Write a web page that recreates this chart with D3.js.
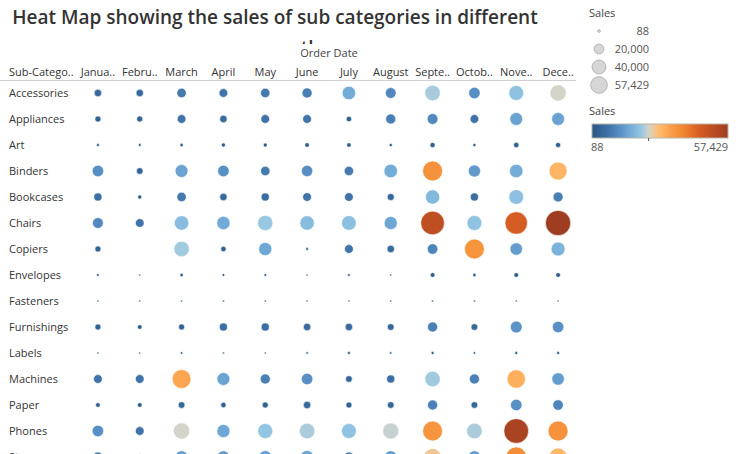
<!DOCTYPE html>
<html>
<head>
<meta charset="utf-8">
<script src="https://cdn.jsdelivr.net/npm/d3@7"></script>
<style>
  html, body { margin: 0; padding: 0; background: #fff; }
  svg { display: block; font-family: "Open Sans", "Noto Sans", sans-serif; }
</style>
</head>
<body>
<svg id="chart" width="736" height="454"></svg>
<script>
// ---------------- DATA ----------------
const months = ["Janua..", "Febru..", "March", "April", "May", "June", "July", "August", "Septe..", "Octob..", "Nove..", "Dece.."];
const subCategories = ["Accessories", "Appliances", "Art", "Binders", "Bookcases", "Chairs", "Copiers", "Envelopes", "Fasteners", "Furnishings", "Labels", "Machines", "Paper", "Phones", "Storage"];

const accessories = [4975, 4975, 8060, 6950, 8060, 9250, 16450, 10500, 21750, 11900, 19900, 24000];
const appliances  = [3330, 3330, 6950, 4975, 6950, 6950, 2630, 9250, 10500, 6950, 14850, 14850];
const art         = [800, 700, 1000, 1500, 1400, 1900, 1800, 900, 2400, 900, 2500, 2400];
const binders     = [12000, 4100, 15000, 12000, 8000, 11500, 8000, 16500, 36000, 13500, 16500, 29500];
const bookcases   = [5900, 1500, 8000, 5000, 5900, 6900, 6900, 4500, 18500, 5900, 19500, 9000];
const chairs      = [10500, 6900, 19000, 16000, 21000, 19000, 19500, 15500, 50500, 20000, 45500, 57429];
const copiers     = [3300, null, 21500, 2600, 15500, 700, 7000, 5000, 10000, 35500, 14000, 17500];
const envelopes   = [660, 370, 1030, 660, 660, 370, 660, 370, 2015, 1030, 2015, 2015];
const fasteners   = [300, 280, 88, 230, 220, 300, 280, 210, 330, 300, 320, 300];
const furnishings = [3300, 2000, 3300, 5900, 5900, 5000, 5000, 4100, 9250, 4100, 12500, 12000];
const labels      = [260, 260, 500, 260, 370, 500, 800, 500, 800, 500, 800, 800];
const machines    = [6950, 6950, 32000, 15000, 9250, 12000, 4110, 5920, 21500, 9250, 30500, 14000];
const paper       = [2000, 2000, 4100, 2600, 3300, 5000, 3300, 4100, 9250, 4100, 12000, 10000];
const phones      = [12000, 6950, 24000, 15500, 20500, 22000, 20000, 23300, 35500, 22000, 55000, 36000];
const storage     = [9000, 4000, 14000, 14000, 15000, 15500, 9500, 14000, 26500, 14000, 37000, 29000];

const sizeLegendValues = [88, 20000, 40000, 57429];
const sizeLegendLabels = ["88", "20,000", "40,000", "57,429"];
const colorLegendLabels = ["88", "57,429"];
const salesMin = 88, salesMax = 57429, salesCenter = 23950;

// ---------------- BUILD ----------------
const seriesByRow = [accessories, appliances, art, binders, bookcases, chairs, copiers, envelopes, fasteners, furnishings, labels, machines, paper, phones, storage];
const cells = [];
subCategories.forEach((sc, i) => {
  months.forEach((m, j) => {
    const v = seriesByRow[i][j];
    if (v != null) cells.push({ sub: sc, month: m, value: v });
  });
});

const svg = d3.select("#chart");

const x = d3.scaleBand().domain(months).range([77, 579]);
const y = d3.scaleBand().domain(subCategories).range([80, 80 + 26 * subCategories.length]);
const r = d3.scaleSqrt().domain([0, salesMax]).range([0, 12.6]);
const color = d3.scaleLinear()
  .domain([salesMin, 6000, 12000, 17000, 21000, salesCenter, 28000, 33000, 38000, 46000, salesMax])
  .range(["#2a5783", "#3b6ea4", "#5890c5", "#77b0da", "#98c8e3", "#d4d4cc", "#ffbe72", "#fba04a", "#f28832", "#d35a22", "#9e3d22"])
  .interpolate(d3.interpolateRgb)
  .clamp(true);

// Title
svg.append("text")
  .attr("x", 275).attr("y", 24)
  .attr("text-anchor", "middle")
  .attr("font-size", 19).attr("font-weight", 600)
  .attr("fill", "#333")
  .text("Heat Map showing the sales of sub categories in different");

// clipped second line of title
svg.append("clipPath").attr("id", "titleClip")
  .append("rect").attr("x", 0).attr("y", 30).attr("width", 580).attr("height", 14);
svg.append("text")
  .attr("x", 259).attr("y", 55)
  .attr("clip-path", "url(#titleClip)")
  .attr("font-size", 19).attr("font-weight", 600)
  .attr("fill", "#333")
  .text("months");

// Order Date
svg.append("text")
  .attr("x", 329).attr("y", 57)
  .attr("text-anchor", "middle")
  .attr("font-size", 11).attr("fill", "#444")
  .text("Order Date");

// Header row
svg.append("text")
  .attr("x", 9).attr("y", 76)
  .attr("font-size", 11).attr("fill", "#333")
  .text("Sub-Catego..");

const xAxis = d3.axisTop(x).tickSize(0).tickPadding(0);
const gx = svg.append("g").attr("transform", "translate(0,76)").call(xAxis);
gx.select(".domain").remove();
gx.selectAll("text").attr("font-size", 11).attr("fill", "#333")
  .attr("font-family", "\"Open Sans\", \"Noto Sans\", sans-serif").attr("dy", 0);

// header line
svg.append("line")
  .attr("x1", 0).attr("x2", 576).attr("y1", 80.5).attr("y2", 80.5)
  .attr("stroke", "#d0d0d0").attr("stroke-width", 1);

// Row labels
const yAxis = d3.axisLeft(y).tickSize(0).tickPadding(0);
const gy = svg.append("g").attr("transform", "translate(9,0)").call(yAxis);
gy.select(".domain").remove();
gy.selectAll("text").attr("text-anchor", "start").attr("x", 0)
  .attr("font-size", 11).attr("fill", "#333")
  .attr("font-family", "\"Open Sans\", \"Noto Sans\", sans-serif").attr("dy", "0.35em");

// Marks
svg.append("g").selectAll("circle")
  .data(cells)
  .join("circle")
  .attr("cx", d => x(d.month) + x.bandwidth() / 2)
  .attr("cy", d => y(d.sub) + y.bandwidth() / 2)
  .attr("r", d => Math.max(1, r(d.value)))
  .attr("fill", d => color(d.value))
  .attr("stroke", "rgba(255,255,255,0.7)")
  .attr("stroke-width", 0.8);

// ---------------- Size legend ----------------
const lr = d3.scaleSqrt().domain([0, salesMax]).range([0, 8.3]);
svg.append("text").attr("x", 589).attr("y", 17)
  .attr("font-size", 11).attr("fill", "#444").text("Sales");
const ly = d3.scalePoint().domain(sizeLegendLabels).range([31, 85]);
const sl = svg.append("g");
sizeLegendValues.forEach((v, i) => {
  const lab = sizeLegendLabels[i];
  sl.append("circle")
    .attr("cx", 599).attr("cy", ly(lab))
    .attr("r", Math.max(1.3, lr(v)))
    .attr("fill", "#d6d6d6").attr("stroke", "#b4b4b4").attr("stroke-width", 1);
  sl.append("text")
    .attr("x", 649).attr("y", ly(lab)).attr("dy", "0.35em")
    .attr("text-anchor", "end").attr("font-size", 11).attr("fill", "#555")
    .text(lab);
});

// ---------------- Color legend ----------------
svg.append("text").attr("x", 589).attr("y", 115)
  .attr("font-size", 11).attr("fill", "#444").text("Sales");
const lx = d3.scaleLinear().domain([salesMin, salesMax]).range([592, 728]);
const grad = svg.append("defs").append("linearGradient").attr("id", "salesGrad")
  .attr("x1", "0%").attr("x2", "100%").attr("y1", "0%").attr("y2", "0%");
d3.range(0, 1.0001, 0.02).forEach(t => {
  const v = salesMin + t * (salesMax - salesMin);
  grad.append("stop").attr("offset", (t * 100) + "%").attr("stop-color", color(v));
});
svg.append("rect")
  .attr("x", lx(salesMin)).attr("y", 124)
  .attr("width", lx(salesMax) - lx(salesMin)).attr("height", 14)
  .attr("fill", "url(#salesGrad)").attr("stroke", "#b9b2a6").attr("stroke-width", 1);
svg.append("line")
  .attr("x1", lx(salesCenter)).attr("x2", lx(salesCenter))
  .attr("y1", 138).attr("y2", 141)
  .attr("stroke", "#555").attr("stroke-width", 1);
svg.append("text").attr("x", lx(salesMin) - 1).attr("y", 151)
  .attr("font-size", 11).attr("fill", "#555").text(colorLegendLabels[0]);
svg.append("text").attr("x", lx(salesMax)).attr("y", 151)
  .attr("text-anchor", "end").attr("font-size", 11).attr("fill", "#555").text(colorLegendLabels[1]);
</script>
</body>
</html>
